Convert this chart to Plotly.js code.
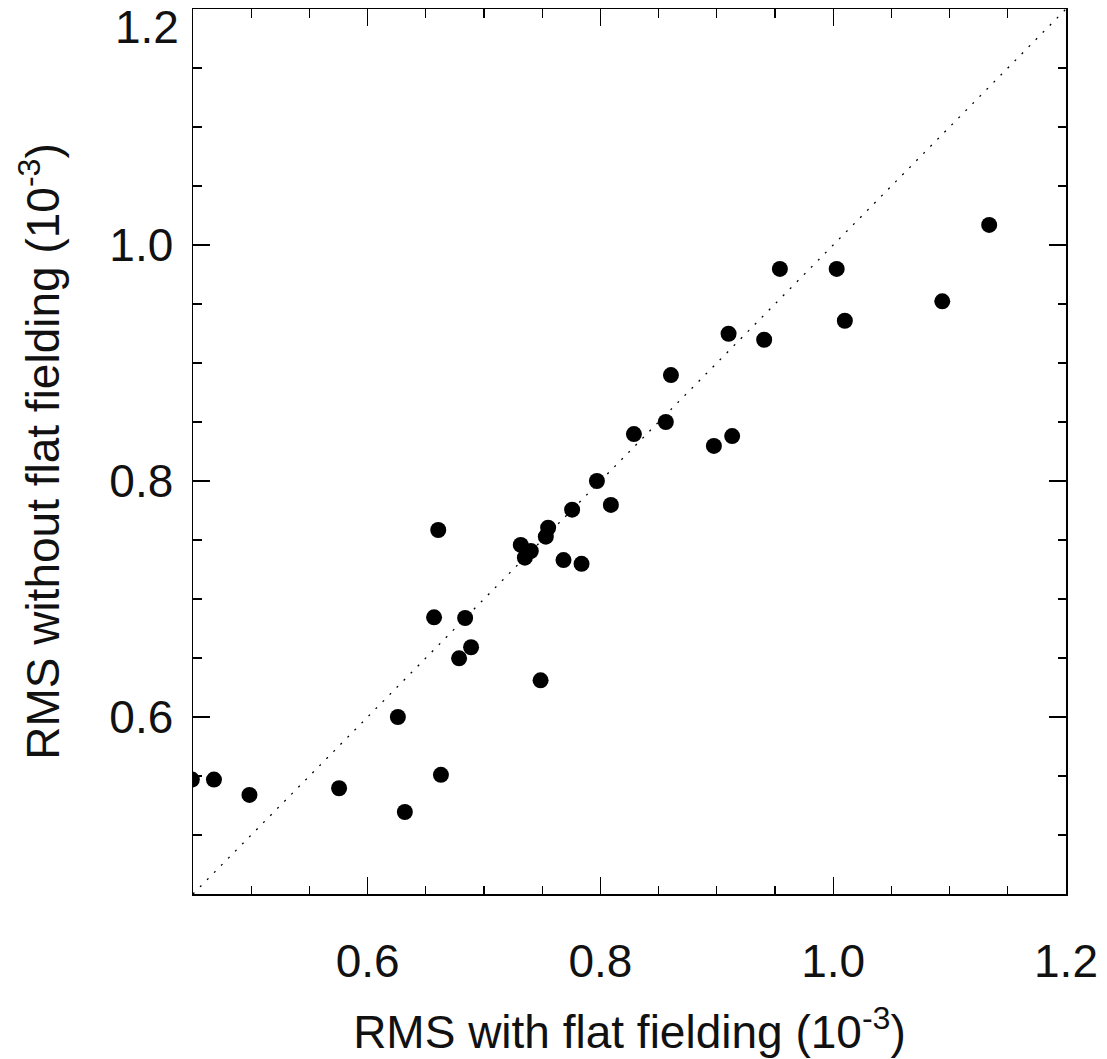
<!DOCTYPE html>
<html>
<head>
<meta charset="utf-8">
<script src="https://cdn.plot.ly/plotly-3.0.1.min.js"></script>
<style>html,body{margin:0;padding:0;background:#fff;}</style>
</head>
<body>
<div id="chart" style="width:1107px;height:1059px;"></div>
<script>
// RMS with flat fielding (10^-3)
const rmsWith = [
  0.449, 0.468, 0.4985, 0.5755, 0.632, 0.626, 0.663,
  0.6607, 0.6571, 0.6838, 0.6889, 0.6786, 0.7486,
  0.7316, 0.7402, 0.7351, 0.7551, 0.7531, 0.7757, 0.809, 0.7683, 0.7838, 0.797,
  0.8288, 0.8562, 0.8606, 0.8975, 0.9132, 0.9101, 0.9407,
  0.9542, 1.003, 1.010, 1.0937, 1.134
];
// RMS without flat fielding (10^-3)
const rmsWithout = [
  0.547, 0.547, 0.534, 0.5396, 0.5195, 0.600, 0.551,
  0.7585, 0.6845, 0.6839, 0.6591, 0.6497, 0.6311,
  0.7458, 0.7407, 0.735, 0.7604, 0.7528, 0.7757, 0.7797, 0.733, 0.7298, 0.800,
  0.8398, 0.850, 0.8898, 0.8297, 0.8381, 0.9248, 0.9197,
  0.9797, 0.9797, 0.9358, 0.9523, 1.017
];
// one-to-one reference line
const diagLine = [0.45, 1.2];
const xTickVals = [0.6, 0.8, 1.0, 1.2];
const yTickVals = [0.6, 0.8, 1.0];
const yTopLabel = '1.2';

const FONT = 'Liberation Sans, Arial, Helvetica, sans-serif';

const traces = [
  {
    x: diagLine, y: diagLine, mode: 'lines', type: 'scatter',
    line: {color: '#000', width: 1.3, dash: '2px,8px'},
    hoverinfo: 'skip', showlegend: false
  },
  {
    x: rmsWith, y: rmsWithout, mode: 'markers', type: 'scatter',
    marker: {color: '#000', size: 16, line: {width: 0}},
    showlegend: false
  }
];

const axisCommon = {
  range: [0.45, 1.2],
  showgrid: false, zeroline: false,
  showline: true, linecolor: '#000', linewidth: 1.5, mirror: 'allticks',
  ticks: 'inside', ticklen: 17, tickwidth: 1.3, tickcolor: '#000',
  tickfont: {family: FONT, size: 46, color: '#111'},
  tickformat: '.1f',
  minor: {dtick: 0.05, tick0: 0, ticks: 'inside', ticklen: 8.5, tickwidth: 1.3, tickcolor: '#000', showgrid: false},
  automargin: false
};

const layout = {
  width: 1107, height: 1059,
  margin: {l: 193, r: 41, t: 9, b: 165},
  paper_bgcolor: '#fff', plot_bgcolor: '#fff',
  font: {family: FONT, color: '#111'},
  xaxis: Object.assign({}, axisCommon, {
    tickmode: 'array', tickvals: xTickVals,
    ticklabelstandoff: 26,
    title: {text: 'RMS with flat fielding (10<sup>-3</sup>)', font: {family: FONT, size: 46, color: '#111'}, standoff: 30}
  }),
  yaxis: Object.assign({}, axisCommon, {
    tickmode: 'array', tickvals: yTickVals,
    ticklabelstandoff: 9,
    title: {text: 'RMS without flat fielding (10<sup>-3</sup>)', font: {family: FONT, size: 46, color: '#111'}, standoff: 35}
  }),
  annotations: [
    {text: yTopLabel, xref: 'paper', yref: 'y', x: 0, y: 1.2,
     xanchor: 'right', yanchor: 'top', xshift: -12, yshift: 10,
     showarrow: false, font: {family: FONT, size: 46, color: '#111'}}
  ]
};

Plotly.newPlot('chart', traces, layout, {displayModeBar: false, staticPlot: true});
</script>
</body>
</html>
